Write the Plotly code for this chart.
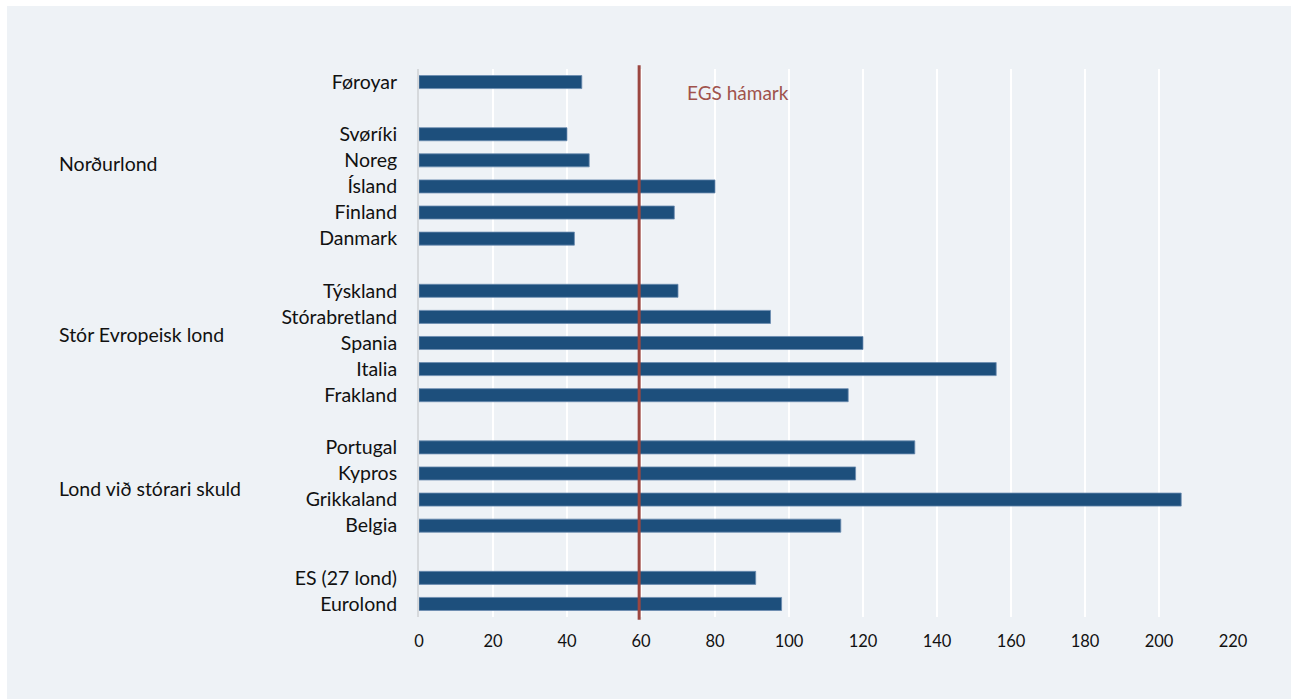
import plotly.graph_objects as go

# Data (top to bottom); blank strings are spacer rows between groups
countries = ["Føroyar", " ",
             "Svøríki", "Noreg", "Ísland", "Finland", "Danmark", "  ",
             "Týskland", "Stórabretland", "Spania", "Italia", "Frakland", "   ",
             "Portugal", "Kypros", "Grikkaland", "Belgia", "    ",
             "ES (27 lond)", "Eurolond"]
debt = [44, None,
        40, 46, 80, 69, 42, None,
        70, 95, 120, 156, 116, None,
        134, 118, 206, 114, None,
        91, 98]
groups = ["Norðurlond", "Stór Evropeisk lond", "Lond við stórari skuld"]
group_y = [0.827, 0.516, 0.235]
limit_value = 59.5
limit_label = "EGS hámark"
x_ticks = list(range(0, 221, 20))

W, H = 1291, 699
ml, mr, mt, mb = 419, 58, 69, 82
pw, ph = W - ml - mr, H - mt - mb

FONT = "Lato"
BG = "#eef2f6"
TXT = "#111111"

fig = go.Figure()
fig.add_trace(go.Bar(
    y=countries, x=debt, orientation="h", width=0.5,
    marker=dict(color="#1d4f7c", line=dict(color="#6b8cb0", width=0.8)),
    hoverinfo="x+y", showlegend=False,
))

# White strips at top and left of the grey page
fig.add_shape(type="rect", xref="paper", yref="paper",
              x0=-ml / pw - 0.01, x1=(W - ml) / pw + 0.01,
              y0=(H - 6 - mb) / ph, y1=(H - mb) / ph + 0.01,
              fillcolor="white", line=dict(width=0), layer="below")
fig.add_shape(type="rect", xref="paper", yref="paper",
              x0=-ml / pw - 0.01, x1=(7 - ml) / pw,
              y0=-mb / ph - 0.01, y1=(H - mb) / ph + 0.01,
              fillcolor="white", line=dict(width=0), layer="below")

# EU limit line
fig.add_shape(type="line", xref="x", yref="paper",
              x0=limit_value, x1=limit_value, y0=-0.005, y1=1.007,
              line=dict(color="#9b4640", width=3))
fig.add_annotation(x=72, y=0.957, xref="x", yref="paper", text=limit_label,
                   showarrow=False, xanchor="left", yanchor="middle",
                   font=dict(family=FONT, size=19, color="#a0524c"))

for g, gy in zip(groups, group_y):
    fig.add_annotation(x=(57 - ml) / pw, y=gy, xref="paper", yref="paper",
                       text=g, showarrow=False, xanchor="left", yanchor="middle",
                       font=dict(family=FONT, size=19.5, color=TXT))

fig.update_layout(
    width=W, height=H,
    margin=dict(l=ml, r=mr, t=mt, b=mb, pad=0),
    paper_bgcolor=BG, plot_bgcolor=BG,
    font=dict(family=FONT, size=17, color=TXT),
    bargap=0.5,
    xaxis=dict(range=[0, 220], tickvals=x_ticks, showgrid=True, gridcolor="white",
               gridwidth=2, zeroline=False, showline=False, ticks="",
               ticklabelstandoff=12, tickfont=dict(size=16.5)),
    yaxis=dict(type="category", categoryorder="array", categoryarray=countries,
               autorange="reversed", showgrid=False, zeroline=False,
               showline=True, linecolor="#d6d9dc", linewidth=2, ticks="",
               ticklabelstandoff=16, tickfont=dict(size=19.5)),
)

fig.write_html("out.html")
